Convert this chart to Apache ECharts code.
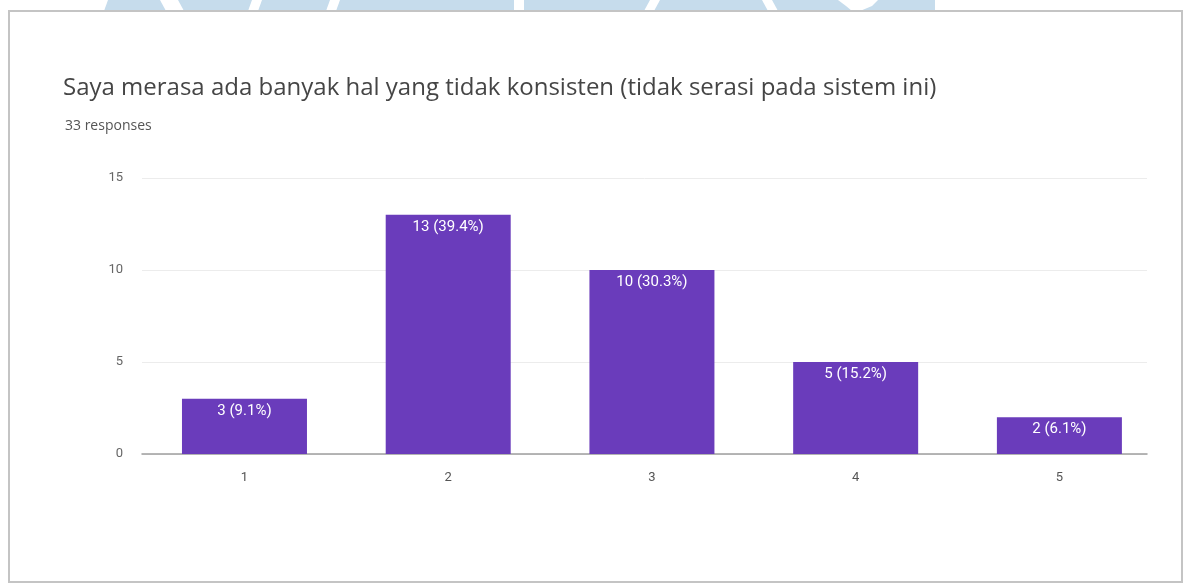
<!DOCTYPE html>
<html>
<head>
<meta charset="utf-8">
<title>Saya merasa ada banyak hal yang tidak konsisten</title>
<script src="https://cdn.jsdelivr.net/npm/echarts@6/dist/echarts.min.js"></script>
<style>
  html, body { margin: 0; padding: 0; background: #ffffff; }
  #chart { width: 1187px; height: 584px; }
</style>
</head>
<body>
<div id="chart"></div>
<script>
// Survey answers: scale 1..5 and number of respondents per answer
const questionTitle = 'Saya merasa ada banyak hal yang tidak konsisten (tidak serasi pada sistem ini)';
const responseNote = '33 responses';
const scaleValues = [1, 2, 3, 4, 5];
const responseCounts = [3, 13, 10, 5, 2];
const yTicks = [0, 5, 10, 15];

const total = responseCounts.reduce((a, b) => a + b, 0);
const barData = scaleValues.map((v, i) => [v, responseCounts[i]]);

const chart = echarts.init(document.getElementById('chart'), null, { renderer: 'canvas' });

// light-blue banner strip above the card, broken by slanted white gaps
const bandColor = '#c6dcec';
const bandTop = 0, bandBottom = 11;
function gap(x0, x1, slant) {
  return {
    type: 'polygon', silent: true, z: 1,
    shape: { points: [[x0, bandTop], [x1, bandTop], [x1 + slant, bandBottom], [x0 + slant, bandBottom]] },
    style: { fill: '#ffffff' }
  };
}

chart.setOption({
  backgroundColor: '#ffffff',
  animation: false,
  title: [
    {
      text: questionTitle,
      left: 58, top: 71,
      textStyle: { fontFamily: 'Open Sans', fontSize: 24, fontWeight: 'normal', color: '#454545' }
    },
    {
      text: responseNote,
      left: 60, top: 114,
      textStyle: { fontFamily: 'Open Sans', fontSize: 14, fontWeight: 'normal', color: '#555555' }
    }
  ],
  graphic: [
    { type: 'polygon', silent: true, z: 0,
      shape: { points: [[108, bandTop], [935, bandTop], [935, bandBottom], [104, bandBottom]] },
      style: { fill: bandColor } },
    gap(160, 178, 6),
    gap(252, 262, -4),
    gap(330, 340, -4),
    gap(514, 524, 0),
    gap(650, 660, -6),
    gap(762, 772, 6),
    { type: 'polygon', silent: true, z: 1,
      shape: { points: [[838, bandTop], [878, bandTop], [872, 6], [860, bandBottom], [852, bandBottom], [846, 6]] },
      style: { fill: '#ffffff' } },
    // card outline
    { type: 'rect', silent: true, z: 2,
      shape: { x: 9, y: 11, width: 1173, height: 571 },
      style: { fill: 'transparent', stroke: '#c4c4c4', lineWidth: 2 } }
  ],
  grid: { left: 142, right: 40, top: 178, bottom: 130, containLabel: false },
  xAxis: {
    type: 'value',
    min: 0.497,
    max: 5.43,
    splitLine: { show: false },
    axisTick: { show: false },
    axisLine: { show: true, onZero: true, lineStyle: { color: '#9e9e9e', width: 1.5 } },
    axisLabel: {
      customValues: scaleValues,
      formatter: v => String(v),
      color: '#555555', fontFamily: 'Roboto', fontSize: 13, margin: 17
    }
  },
  yAxis: {
    type: 'value',
    min: 0, max: 15, interval: 5,
    axisLine: { show: false },
    axisTick: { show: false },
    splitLine: { lineStyle: { color: '#ececec', width: 1 } },
    axisLabel: {
      customValues: yTicks,
      color: '#666666', fontFamily: 'Roboto', fontSize: 13, margin: 19
    }
  },
  series: [{
    type: 'bar',
    data: barData,
    barWidth: 125,
    itemStyle: { color: '#6a3cbb' },
    label: {
      show: true,
      position: 'insideTop',
      distance: 5,
      color: '#ffffff',
      fontFamily: 'Roboto',
      fontSize: 15,
      formatter: p => {
        const n = p.value[1];
        return n + ' (' + (n / total * 100).toFixed(1) + '%)';
      }
    }
  }]
});
</script>
</body>
</html>
